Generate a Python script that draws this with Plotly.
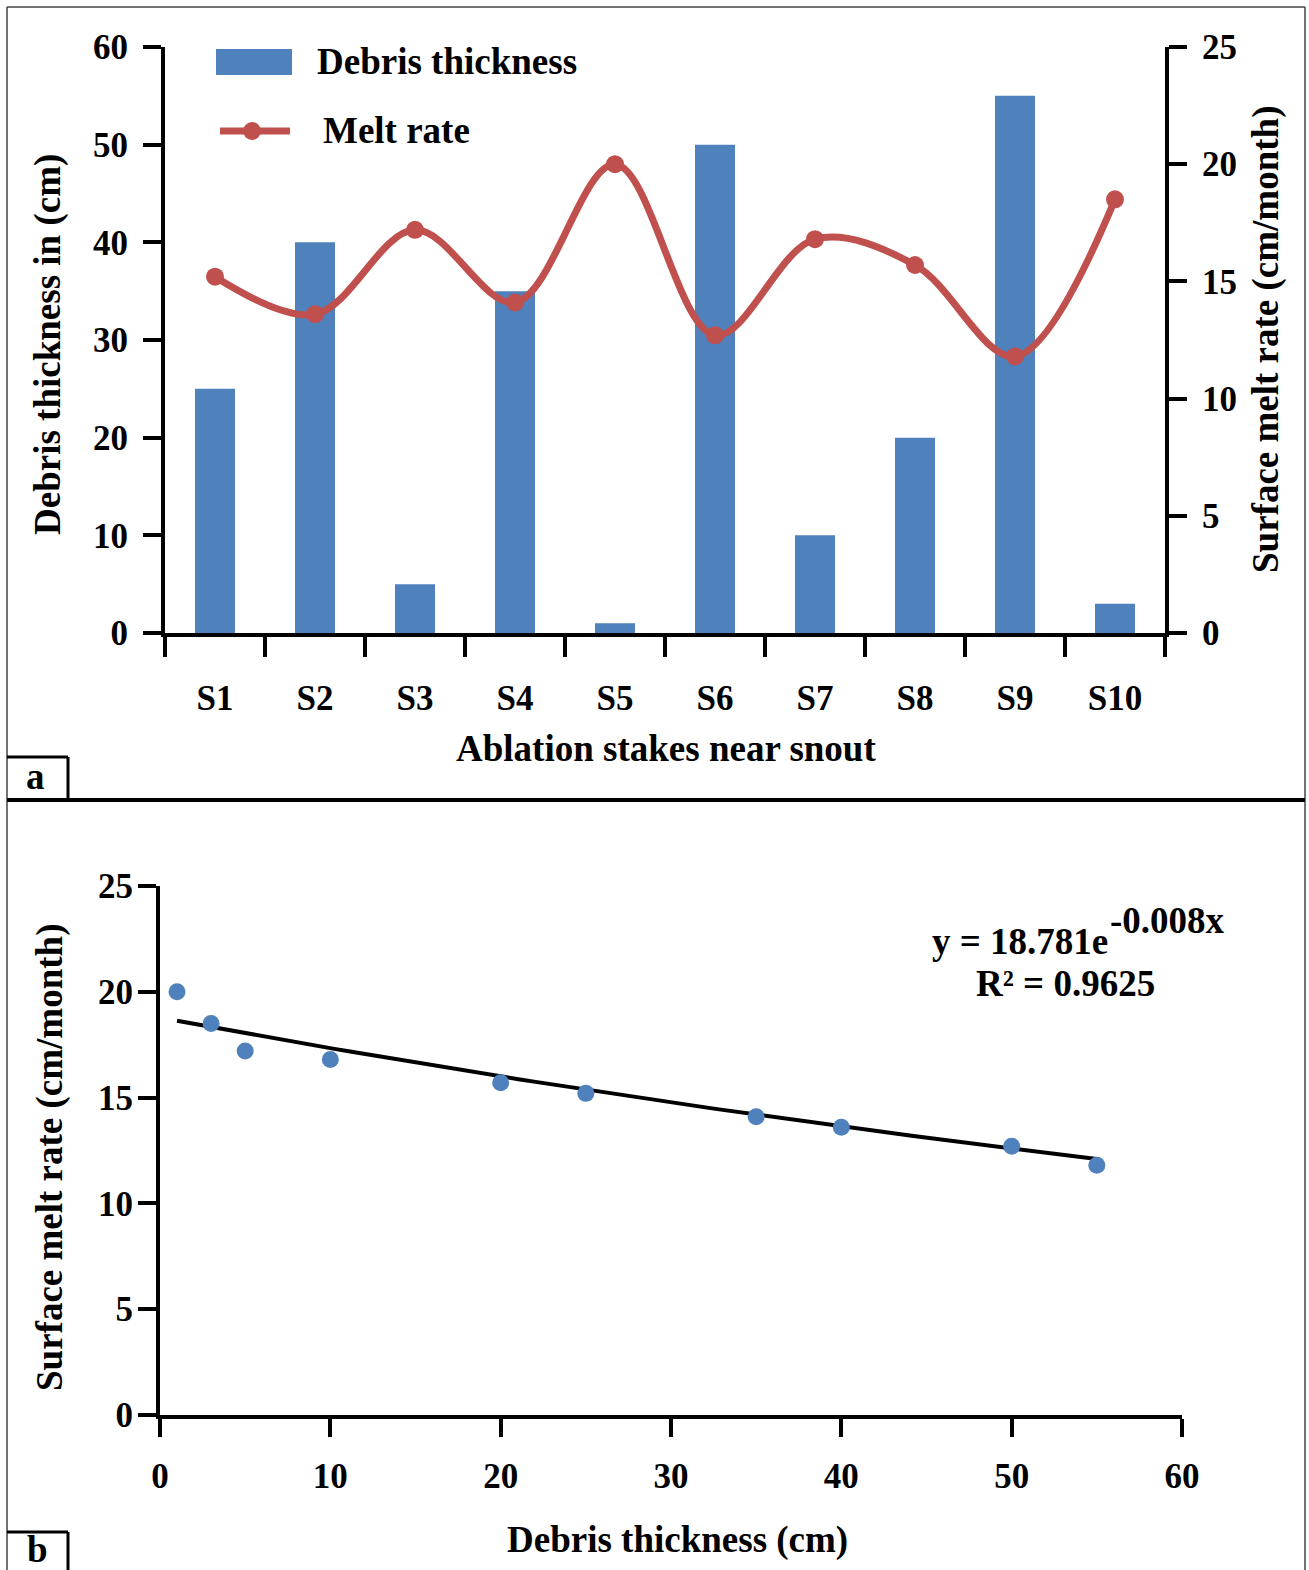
import numpy as np
import plotly.graph_objects as go

# ---------------- data ----------------
stakes = ["S1", "S2", "S3", "S4", "S5", "S6", "S7", "S8", "S9", "S10"]
debris_cm = [25, 40, 5, 35, 1, 50, 10, 20, 55, 3]
melt_rate = [15.2, 13.6, 17.2, 14.1, 20.0, 12.7, 16.8, 15.7, 11.8, 18.5]
# exponential trendline coefficients printed on the chart
fit_a = 18.781
fit_b = -0.008
left_ticks = [0, 10, 20, 30, 40, 50, 60]
right_ticks = [0, 5, 10, 15, 20, 25]
bx_ticks = [0, 10, 20, 30, 40, 50, 60]

W, H = 1309, 1570
def X(px):
    return px / W
def Y(py):
    return 1 - py / H

BLUE = "#4F81BD"
RED = "#C0504D"
FONT = "Liberation Serif"
TICKF = dict(family=FONT, size=35, color="black", weight="bold")
TITLEF = dict(family=FONT, size=37, color="black", weight="bold")

fig = go.Figure()

fig.add_trace(go.Bar(x=stakes, y=debris_cm, marker=dict(color=BLUE, line=dict(width=0)),
                     xaxis="x", yaxis="y", name="Debris thickness", showlegend=False))
fig.add_trace(go.Scatter(x=stakes, y=melt_rate, mode="lines+markers",
                         line=dict(color=RED, width=7, shape="spline", smoothing=1.0),
                         marker=dict(color=RED, size=18),
                         xaxis="x", yaxis="y2", name="Melt rate", showlegend=False))

fit_x = np.linspace(min(debris_cm), max(debris_cm), 60)
fit_y = fit_a * np.exp(fit_b * fit_x)
fig.add_trace(go.Scatter(x=fit_x, y=fit_y, mode="lines", line=dict(color="black", width=4),
                         xaxis="x2", yaxis="y3", showlegend=False))
fig.add_trace(go.Scatter(x=debris_cm, y=melt_rate, mode="markers",
                         marker=dict(color=BLUE, size=17),
                         xaxis="x2", yaxis="y3", showlegend=False))

common = dict(showline=True, linewidth=4, linecolor="black", ticks="outside",
              tickwidth=4, tickcolor="black", showgrid=False, zeroline=False,
              tickfont=TICKF, automargin=False)

fig.update_layout(
    width=W, height=H, autosize=False,
    margin=dict(l=0, r=0, t=0, b=0, autoexpand=False),
    paper_bgcolor="white", plot_bgcolor="white",
    bargap=0.6,
    showlegend=False,
    xaxis=dict(domain=[X(165), X(1165)], anchor="y", type="category",
               range=[-0.5, 9.5], tickson="boundaries", ticklen=20,
               ticklabelstandoff=31, **common),
    yaxis=dict(domain=[Y(633), Y(47)], anchor="x", range=[0, 60],
               tickvals=left_ticks, ticklen=18, ticklabelstandoff=8, **common),
    yaxis2=dict(overlaying="y", side="right", anchor="x", range=[0, 25],
                tickvals=right_ticks, ticklen=18, ticklabelstandoff=8, **common),
    xaxis2=dict(domain=[X(160), X(1182)], anchor="y3", range=[0, 60],
                tickvals=bx_ticks, ticklen=18, ticklabelstandoff=9, **common),
    yaxis3=dict(domain=[Y(1415), Y(886)], anchor="x2", range=[0, 25],
                tickvals=right_ticks, ticklen=18, ticklabelstandoff=-2, **common),
)

shapes = []
def pline(x0, y0, x1, y1, color="black", width=3):
    shapes.append(dict(type="line", xref="paper", yref="paper",
                       x0=X(x0), y0=Y(y0), x1=X(x1), y1=Y(y1),
                       line=dict(color=color, width=width)))

# outer frame
pline(7, 7, 1305, 7, color="#444", width=1.5)
pline(7, 7, 7, 1570, color="#444", width=1.5)
pline(1305, 7, 1305, 1570, color="#444", width=1.5)
# divider
pline(7, 800, 1305, 800, width=4)
# panel label boxes
pline(7, 757, 68, 757, width=3)
pline(68, 757, 68, 800, width=3)
pline(7, 1532, 68, 1532, width=3)
pline(68, 1532, 68, 1570, width=3)
# custom legend
shapes.append(dict(type="rect", xref="paper", yref="paper",
                   x0=X(216), x1=X(292), y0=Y(75), y1=Y(49),
                   fillcolor=BLUE, line=dict(width=0)))
pline(220, 131, 290, 131, color=RED, width=7)
shapes.append(dict(type="circle", xref="paper", yref="paper",
                   x0=X(243), x1=X(261), y0=Y(140), y1=Y(122),
                   fillcolor=RED, line=dict(width=0)))
fig.update_layout(shapes=shapes)

def ann(text, x, y, xanchor="center", yanchor="middle", angle=0, font=TITLEF):
    fig.add_annotation(text=text, xref="paper", yref="paper", x=X(x), y=Y(y),
                       xanchor=xanchor, yanchor=yanchor, textangle=angle,
                       showarrow=False, font=font)

ann("Debris thickness", 315, 62, xanchor="left")
ann("Melt rate", 321, 131, xanchor="left")
ann("Ablation stakes near snout", 666, 748)
ann("Debris thickness in (cm)", 48, 345, angle=-90)
ann("Surface melt rate (cm/month)", 1266, 340, angle=-90)
ann("Debris thickness (cm)", 677, 1540)
ann("Surface melt rate (cm/month)", 50, 1158, angle=-90)
ann("y = 18.781e", 1110, 941, xanchor="right")
ann("-0.008x", 1108, 920, xanchor="left")
ann("R² = 0.9625", 1065, 983)
ann("a", 35, 776)
ann("b", 37, 1549)

fig.write_html("out.html")
